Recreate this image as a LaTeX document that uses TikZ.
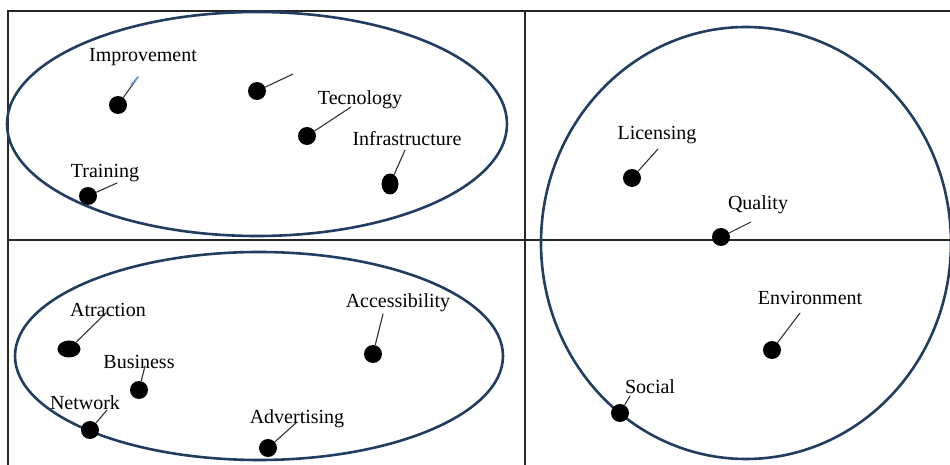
\documentclass[tikz,border=0pt]{standalone}
\usepackage{fontspec}
\setmainfont{Liberation Serif}
\usepackage{tikz}
\usetikzlibrary{shapes.geometric}
\definecolor{RingBlue}{RGB}{33,62,96}
\tikzset{
  dot/.style={ellipse,fill=black,inner sep=0pt,minimum width=9pt,minimum height=9pt},
  tag/.style={font=\fontsize{10}{12}\selectfont,inner sep=0pt,yshift=-1pt},
  stem/.style={draw=black!80,line width=0.55pt,line cap=round},
  ring/.style={draw=RingBlue,line width=1.3pt},
  frame/.style={draw=black!85,line width=0.8pt}
}

\begin{document}
\begin{tikzpicture}[x=0.5pt,y=-0.5pt]
  \useasboundingbox (0,0) rectangle (950,465);
  % table lines
  \draw[frame] (8,465) -- (8,11) -- (950,11);
  \draw[frame] (525,11) -- (525,465);
  \draw[frame] (8,240) -- (950,240);
  % groups
  \draw[ring] (257,124) ellipse [x radius=250, y radius=112];
  \draw[ring] (259,356) ellipse [x radius=244, y radius=104];
  \draw[ring] (746,243) ellipse [x radius=205, y radius=216];

  % upper left
  \node[dot] (improvement) at (118,105) {};
  \node[dot] (blank) at (257,91) {};
  \node[dot] (tecnology) at (307,136) {};
  \node[dot,minimum width=8.5pt,minimum height=10.5pt] (infrastructure) at (390,184) {};
  \node[dot] (training) at (88,196) {};
  \coordinate (improvementEnd) at (138,77);
  \coordinate (blankEnd) at (293,74);
  \coordinate (tecnologyEnd) at (351,107);
  \coordinate (infrastructureEnd) at (405,150);
  \coordinate (trainingEnd) at (117,183);
  \draw[stem] (improvement) -- (improvementEnd);
  \draw[draw=cyan!50!blue!60,line width=0.9pt] (131,85) -- (improvementEnd);
  \draw[stem] (blank) -- (blankEnd);
  \draw[stem] (tecnology) -- (tecnologyEnd);
  \draw[stem] (infrastructure) -- (infrastructureEnd);
  \draw[stem] (training) -- (trainingEnd);
  \node[tag] (improvementTag) at (143,55) {Improvement};
  \node[tag] (tecnologyTag) at (360,98) {Tecnology};
  \node[tag] (infrastructureTag) at (407,137) {Infrastructure};
  \node[tag] (trainingTag) at (105,171) {Training};

  % upper right
  \node[dot] (licensing) at (632,178) {};
  \node[dot] (quality) at (721,237) {};
  \coordinate (licensingEnd) at (658,149);
  \coordinate (qualityEnd) at (751,222);
  \draw[stem] (licensing) -- (licensingEnd);
  \draw[stem] (quality) -- (qualityEnd);
  \node[tag] (licensingTag) at (657,133) {Licensing};
  \node[tag] (qualityTag) at (758,203) {Quality};

  % lower left
  \node[dot,minimum width=11.5pt,minimum height=8.5pt] (atraction) at (69,349) {};
  \node[dot] (business) at (139,390) {};
  \node[dot] (network) at (90,430) {};
  \node[dot] (advertising) at (268,448) {};
  \node[dot] (accessibility) at (373,354) {};
  \coordinate (atractionEnd) at (106,313);
  \coordinate (businessEnd) at (145,366);
  \coordinate (networkEnd) at (107,410);
  \coordinate (advertisingEnd) at (297,422);
  \coordinate (accessibilityEnd) at (383,314);
  \draw[stem] (atraction) -- (atractionEnd);
  \draw[stem] (business) -- (businessEnd);
  \draw[stem] (network) -- (networkEnd);
  \draw[stem] (advertising) -- (advertisingEnd);
  \draw[stem] (accessibility) -- (accessibilityEnd);
  \node[tag] (atractionTag) at (108,308) {Atraction};
  \node[tag] (businessTag) at (139,360) {Business};
  \node[tag] (networkTag) at (85,401) {Network};
  \node[tag] (advertisingTag) at (297,417) {Advertising};
  \node[tag] (accessibilityTag) at (398,301) {Accessibility};

  % lower right
  \node[dot] (environment) at (772,350) {};
  \node[dot] (social) at (620,413) {};
  \coordinate (environmentEnd) at (800,313);
  \coordinate (socialEnd) at (630,396);
  \draw[stem] (environment) -- (environmentEnd);
  \draw[stem] (social) -- (socialEnd);
  \node[tag] (environmentTag) at (810,296) {Environment};
  \node[tag] (socialTag) at (650,385) {Social};
\end{tikzpicture}
\end{document}
